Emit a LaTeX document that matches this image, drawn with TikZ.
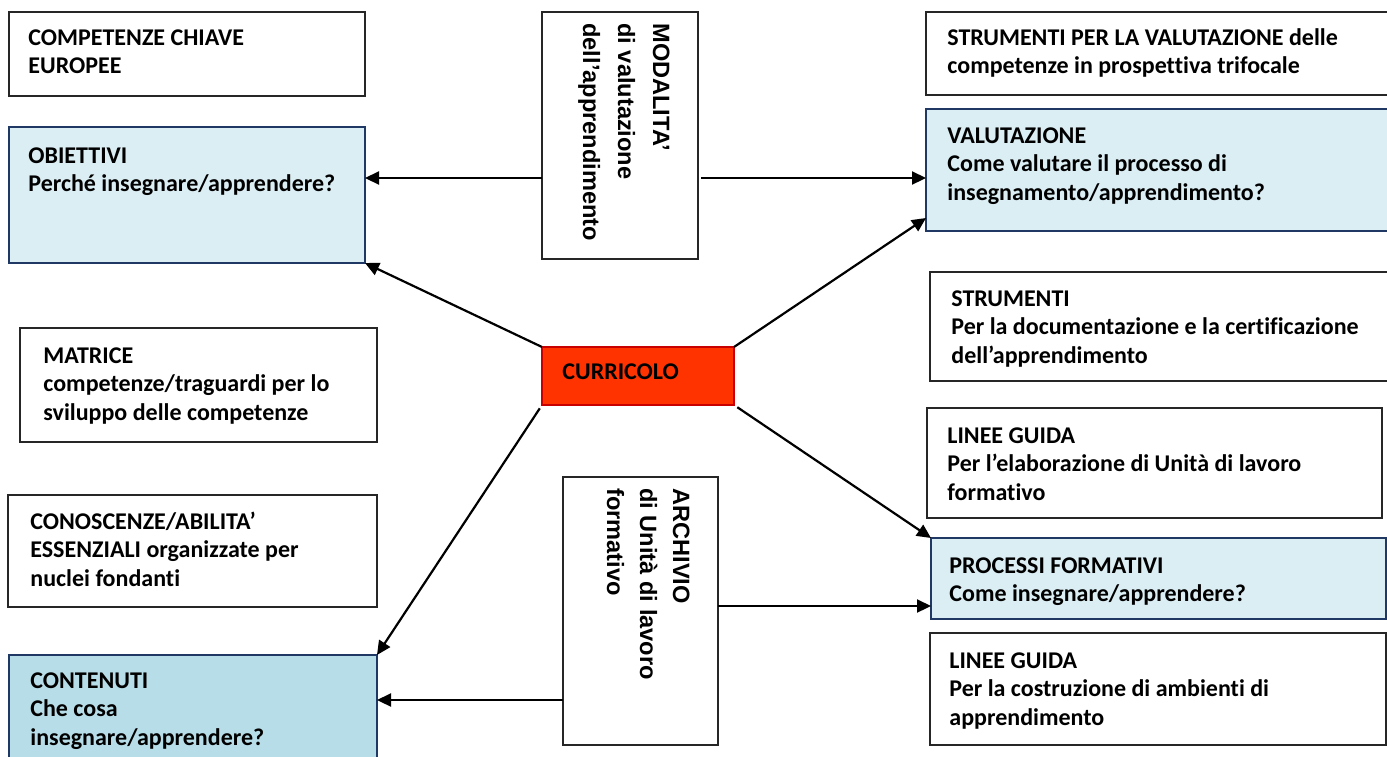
\documentclass[tikz,border=0pt]{standalone}
\usepackage{fontspec}
\setmainfont{Carlito}[RawFeature={-liga;-clig;-dlig}]
\newfontfamily\arialfam{Liberation Sans}
\usetikzlibrary{arrows.meta,fit,calc}
\definecolor{lblue}{HTML}{DBEEF4}
\definecolor{mblue}{HTML}{B7DEE8}
\definecolor{navy}{HTML}{1F3864}
\definecolor{curred}{HTML}{FF3300}
\definecolor{curborder}{HTML}{C80000}
\newcommand{\topstrut}{\rule{0pt}{9pt}}
\tikzset{
  wbox/.style={draw=black!85, line width=1pt, fill=white, inner sep=0pt, outer sep=0pt},
  bbox/.style={draw=navy, line width=1pt, fill=lblue, inner sep=0pt, outer sep=0pt},
  cbox/.style={draw=navy, line width=1pt, fill=mblue, inner sep=0pt, outer sep=0pt},
  rbox/.style={draw=curborder, line width=0.8pt, fill=curred, inner sep=0pt, outer sep=0pt},
  txt/.style={anchor=north west, inner sep=0pt, align=left,
    font=\fontsize{12}{14.25}\selectfont\bfseries},
  rtxt/.style={anchor=north west, inner sep=0pt, align=left, rotate=-90},
  arr/.style={line width=1.1pt, -{Triangle[length=7pt,width=6.5pt]}}
}
\begin{document}
\begin{tikzpicture}[x=0.5pt,y=-0.5pt]
\clip (0,0) rectangle (1387,756);
\fill[white] (0,0) rectangle (1387,756);
% boxes
\node[wbox, fit={(9,12) (365,96)}] (cce) {};
\node[bbox, fit={(9,127) (365,263)}] (obi) {};
\node[wbox, fit={(542,12) (698,259)}] (mod) {};
\node[wbox, fit={(926,12) (1400,95)}] (spv) {};
\node[bbox, fit={(926,109) (1400,231)}] (val) {};
\node[wbox, fit={(930,272) (1400,381)}] (sdoc) {};
\node[wbox, fit={(20,328) (377,442)}] (mat) {};
\node[rbox, fit={(542,347) (734,405)}] (cur) {};
\node[wbox, fit={(927,408) (1382,518)}] (lgA) {};
\node[wbox, fit={(8,495) (377,607)}] (con) {};
\node[wbox, fit={(563,477) (718,745)}] (arc) {};
\node[bbox, fit={(931,538) (1386,619)}] (pro) {};
\node[wbox, fit={(930,633) (1386,745)}] (lgB) {};
\node[cbox, fit={(9,655) (377,770)}] (cnt) {};
% texts
\node[txt] (cce-t) at (28,27) {\topstrut COMPETENZE CHIAVE\\EUROPEE};
\node[txt] (obi-t) at (28,145) {\topstrut OBIETTIVI\\Perché insegnare/apprendere?};
\node[txt] (spv-t) at (947,27) {\topstrut STRUMENTI PER LA VALUTAZIONE delle\\competenze in prospettiva trifocale};
\node[txt] (val-t) at (947,125) {\topstrut VALUTAZIONE\\Come valutare il processo di\\insegnamento/apprendimento?};
\node[txt] (sdoc-t) at (951,288) {\topstrut STRUMENTI\\Per la documentazione e la certificazione\\dell’apprendimento};
\node[txt] (mat-t) at (43,345) {\topstrut MATRICE\\competenze/traguardi per lo\\sviluppo delle competenze};
\node[txt] (cur-t) at (562,361) {\topstrut CURRICOLO};
\node[txt] (lgA-t) at (947,425) {\topstrut LINEE GUIDA\\Per l’elaborazione di Unità di lavoro\\formativo};
\node[txt] (con-t) at (30,511) {\topstrut CONOSCENZE/ABILITA’\\ESSENZIALI organizzate per\\nuclei fondanti};
\node[txt] (pro-t) at (949,555) {\topstrut PROCESSI FORMATIVI\\Come insegnare/apprendere?};
\node[txt] (lgB-t) at (949,650) {\topstrut LINEE GUIDA\\Per la costruzione di ambienti di\\apprendimento};
\node[txt] (cnt-t) at (30,670) {\topstrut CONTENUTI\\Che cosa\\insegnare/apprendere?};
\node[rtxt, font=\arialfam\fontsize{11.8}{17.5}\selectfont\bfseries] (mod-t) at (670,23)
  {MODALITA’\\di valutazione\\dell’apprendimento};
\node[rtxt, font=\arialfam\fontsize{11.8}{16.5}\selectfont\bfseries] (arc-t) at (690,488)
  {ARCHIVIO\\di Unità di lavoro\\formativo};
% helper levels
\coordinate (ya) at (0,178);
\coordinate (yb) at (0,218);
\coordinate (yc) at (0,700);
\coordinate (yd) at (0,606);
% connectors
\draw[arr] (mod.west |- ya) -- (obi.east |- ya);
\draw[arr, shorten <=1.5pt] (mod.east |- ya) -- (val.west |- ya);
\draw[arr] (cur.north west) -- (obi.south east);
\draw[arr] (cur.north east) -- (val.west |- yb);
\draw[arr, shorten <=2pt] (cur.south east) -- (pro.north west);
\draw[arr, shorten <=2pt] (cur.south west) -- (cnt.north east);
\draw[arr] (arc.west |- yc) -- (cnt.east |- yc);
\draw[arr] (arc.east |- yd) -- (pro.west |- yd);
\end{tikzpicture}
\end{document}
